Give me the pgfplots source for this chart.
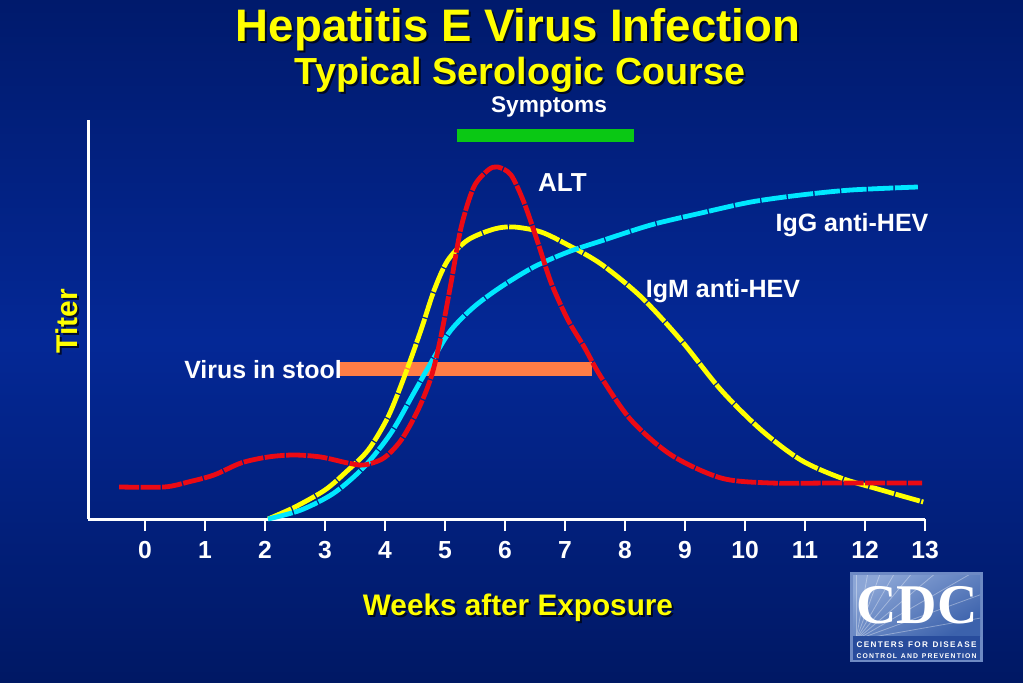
\documentclass[border=0pt]{standalone}
\usepackage{fontspec}
\setmainfont{Liberation Sans}
\newfontfamily\seriffont{Liberation Serif}
\usepackage{pgfplots}
\pgfplotsset{compat=1.18}
\definecolor{bgtop}{RGB}{0,26,108}
\definecolor{bgmid}{RGB}{4,40,150}
\definecolor{bgbot}{RGB}{0,24,100}
\definecolor{altred}{RGB}{235,10,20}
\definecolor{igmyellow}{RGB}{255,255,0}
\definecolor{iggcyan}{RGB}{0,232,255}
\definecolor{symgreen}{RGB}{10,200,20}
\definecolor{stoolorange}{RGB}{255,125,70}
\definecolor{logolight}{RGB}{140,166,214}
\definecolor{logodark}{RGB}{60,98,172}
\definecolor{logostrip}{RGB}{40,76,156}
\definecolor{logoborder}{RGB}{110,138,196}

\pgfplotstableread{
x y
-0.43 32
0.32 32
0.72 37
1.15 44
1.6 56
2.05 62
2.48 64
2.93 62
3.38 56
3.65 54
3.98 61
4.27 79
4.55 109
4.77 142
4.93 182
5.1 236
5.27 292
5.48 332
5.72 349
5.88 352
6.1 344
6.32 316
6.55 276
6.77 236
7.05 199
7.32 172
7.6 142
8.1 99
8.77 64
9.6 41
10.43 36
11.5 36
12.95 36
}\altdata

\pgfplotstableread{
x y
2.05 0
2.5 12
3.0 29
3.35 47
3.72 69
4.05 102
4.32 142
4.6 189
4.82 229
5.05 259
5.38 279
5.82 290
6.15 292
6.6 287
7.05 274
7.6 255
8.27 222
8.93 179
9.6 129
10.27 89
10.93 59
11.6 41
12.27 29
12.97 17
}\igmdata

\pgfplotstableread{
x y
2.05 0
2.6 9
3.15 26
3.65 52
4.1 86
4.48 126
4.82 162
5.1 189
5.48 212
5.93 232
6.48 252
7.05 267
7.6 278
8.43 294
9.27 306
10.1 317
10.93 324
11.77 329
12.88 332
}\iggdata

\begin{document}
\begin{tikzpicture}[x=0.75pt,y=0.75pt]
% background
\shade[top color=bgtop, bottom color=bgbot, middle color=bgmid] (0,0) rectangle (1023,682);
\coordinate (axorigin) at (88,163);

% titles
\node[anchor=base, text=black, opacity=0.7, font=\fontsize{34.2}{38}\selectfont\bfseries] at (520,640-2) {Hepatitis E Virus Infection};
\node[anchor=base, text=igmyellow, font=\fontsize{34.2}{38}\selectfont\bfseries] at (518,640) {Hepatitis E Virus Infection};
\node[anchor=base, text=black, opacity=0.7, font=\fontsize{28.3}{30}\selectfont\bfseries] at (522,597-2) {Typical Serologic Course};
\node[anchor=base, text=igmyellow, font=\fontsize{28.3}{30}\selectfont\bfseries] at (520,597) {Typical Serologic Course};

\begin{axis}[
  at={(axorigin)}, anchor=south west,
  scale only axis, width=627.75pt, height=299.25pt,
  xmin=-0.95, xmax=13, ymin=0, ymax=399,
  clip=false,
  axis x line=bottom, axis y line=left,
  axis line style={-, white, line width=2.25pt},
  xtick={0,...,13}, ytick=\empty,
  tick align=outside, major tick length=9pt,
  tick style={white, line width=1.5pt},
  /pgf/number format/assume math mode=true,
  xticklabel style={font=\fontsize{18.5}{18.5}\selectfont\bfseries, text=white, anchor=base, yshift=-20.25pt},
]
% Symptoms bar
\addplot[symgreen, line width=9.75pt, line cap=butt] coordinates {(5.2,383) (8.15,383)};
% Virus in stool bar
\addplot[stoolorange, line width=10.5pt, line cap=butt] coordinates {(3.22,150) (7.45,150)};
% IgM
\addplot[igmyellow, line width=3.6pt, smooth, tension=0.5, dash pattern=on 19pt off 1.1pt] table {\igmdata};
% IgG
\addplot[iggcyan, line width=3.6pt, smooth, tension=0.5, dash pattern=on 19pt off 1.1pt] table {\iggdata};
% ALT
\addplot[altred, line width=3.6pt, smooth, tension=0.5, dash pattern=on 15pt off 1.1pt] table {\altdata};
\end{axis}

% labels
\node[anchor=base, text=white, font=\fontsize{17}{18}\selectfont\bfseries] at (549,682-113) {Symptoms};
\node[anchor=base, text=white, font=\fontsize{19.5}{20}\selectfont\bfseries] at (562.5,682-192) {ALT};
\node[anchor=base, text=white, font=\fontsize{18.75}{20}\selectfont\bfseries] at (852,682-232) {IgG anti-HEV};
\node[anchor=base, text=white, font=\fontsize{18.75}{20}\selectfont\bfseries] at (723,682-298) {IgM anti-HEV};
\node[anchor=base east, text=white, font=\fontsize{18.7}{20}\selectfont\bfseries, inner sep=0pt] at (342,682-378.5) {Virus in stool};

% axis titles
\node[anchor=base, text=black, opacity=0.7, font=\fontsize{22.3}{24}\selectfont\bfseries] at (520,682-615-2) {Weeks after Exposure};
\node[anchor=base, text=igmyellow, font=\fontsize{22.3}{24}\selectfont\bfseries] at (518,682-615) {Weeks after Exposure};
\node[anchor=base, rotate=90, text=black, opacity=0.7, font=\fontsize{22.5}{24}\selectfont\bfseries] at (79,682-323) {Titer};
\node[anchor=base, rotate=90, text=igmyellow, font=\fontsize{22.5}{24}\selectfont\bfseries] at (77,682-321) {Titer};

% CDC logo
\fill[logoborder] (850,682-662) rectangle (983,682-572);
\shade[bottom color=logodark, top color=logolight, shading angle=30] (853,682-636) rectangle (980,682-575);
\begin{scope}
\clip (853,682-636) rectangle (980,682-575);
\foreach \a in {10,20,...,90} {
  \draw[white, opacity=0.35, line width=0.6pt] (856,682-640) -- ++(\a:200);
}
\end{scope}
\fill[logostrip] (853,682-660) rectangle (980,682-636);
\node[anchor=base, text=white, font=\fontsize{42}{42}\selectfont\seriffont\bfseries] at (917,682-623) {CDC};
\node[anchor=base, text=white, inner sep=0pt] at (916.5,682-647) {\resizebox{90pt}{!}{\bfseries\fontsize{6}{6}\selectfont C\,E\,N\,T\,E\,R\,S\ \ F\,O\,R\ \ D\,I\,S\,E\,A\,S\,E}};
\node[anchor=base, text=white, inner sep=0pt] at (916.5,682-658) {\resizebox{90pt}{!}{\bfseries\fontsize{6}{6}\selectfont C\,O\,N\,T\,R\,O\,L\ \ A\,N\,D\ \ P\,R\,E\,V\,E\,N\,T\,I\,O\,N}};

\pgfresetboundingbox
\useasboundingbox (0,0) rectangle (1023,682);
\end{tikzpicture}
\end{document}
